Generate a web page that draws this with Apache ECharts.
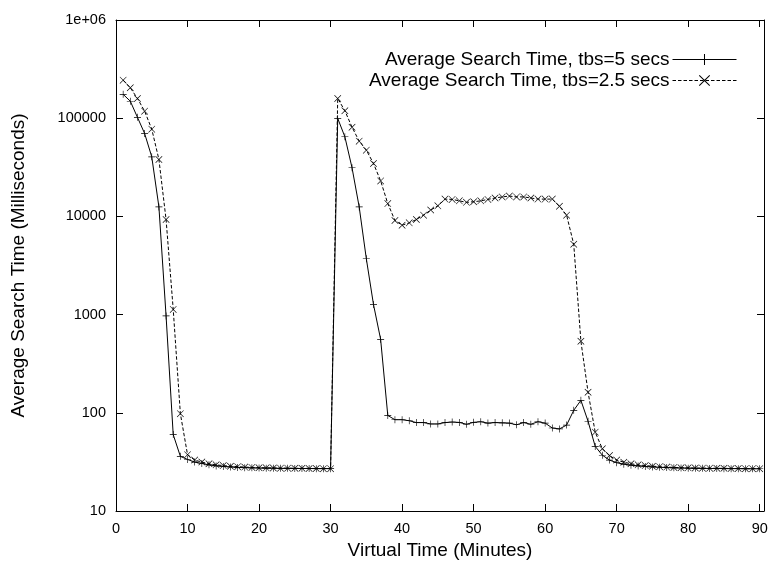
<!DOCTYPE html>
<html>
<head>
<meta charset="utf-8">
<script src="https://cdn.jsdelivr.net/npm/echarts@6/dist/echarts.min.js"></script>
<style>html,body{margin:0;padding:0;background:#fff;}#chart{width:774px;height:567px;}</style>
</head>
<body>
<div id="chart"></div>
<script>
const minutes = [1,2,3,4,5,6,7,8,9,10,11,12,13,14,15,16,17,18,19,20,21,22,23,24,25,26,27,28,29,30,
  31,32,33,34,35,36,37,38,39,40,41,42,43,44,45,46,47,48,49,50,51,52,53,54,55,56,57,58,59,60,
  61,62,63,64,65,66,67,68,69,70,71,72,73,74,75,76,77,78,79,80,81,82,83,84,85,86,87,88,89,90];

const tbs5 = [175000,149000,102000,70000,40400,12500,970,60,36,33.5,
  31.5,30.5,29.5,28.8,28.4,28.1,27.8,27.6,27.5,27.4,
  27.3,27.3,27.2,27.2,27.1,27.1,27.1,27.0,27.0,27.0,
  99500,64700,31300,12500,3700,1270,560,94,85,85,
  83,79.5,79.5,77,77,79.5,80.5,79.8,76.5,80,
  81,78.5,79.5,79,78.5,75.5,79.5,76.5,81,78.5,
  70,68.5,75,106,134,82,45.5,37,33,31,
  30,29.3,28.8,28.4,28.1,27.9,27.7,27.5,27.4,27.3,
  27.2,27.2,27.1,27.1,27.0,27.0,27.0,26.9,26.9,26.9];

const tbs25 = [244000,204000,159000,118000,77400,38000,9300,1130,98,37.5,
  33,31.5,30.3,29.5,29,28.6,28.3,28,27.8,27.6,
  27.5,27.4,27.3,27.3,27.2,27.2,27.1,27.1,27.0,27.0,
  159000,119000,81000,58400,47300,34600,23000,13500,9100,8130,
  8600,9300,10300,11600,12800,15000,14900,14400,13900,14100,
  14400,14900,15400,15800,16100,15800,15800,15400,15000,15000,
  15000,12700,10300,5200,535,162,63.5,43,36.7,33,
  31.4,30.3,29.5,29,28.6,28.3,28,27.8,27.6,27.5,
  27.4,27.3,27.3,27.2,27.2,27.1,27.1,27.0,27.0,27.0];

const seriesNames = ['Average Search Time, tbs=5 secs','Average Search Time, tbs=2.5 secs'];
const xTitle = 'Virtual Time (Minutes)';
const yTitle = 'Average Search Time (Milliseconds)';

const FONT = 'Liberation Sans';
const plusPath = 'path://M0,4.55L10,4.55L10,5.45L0,5.45Z M4.55,0L5.45,0L5.45,10L4.55,10Z';
const crossPath = 'path://M0,0.65L0.65,0L10,9.35L9.35,10Z M9.35,0L10,0.65L0.65,10L0,9.35Z';

function pairs(xs, ys){ return xs.map((x,i)=>[x, ys[i]]); }

const chart = echarts.init(document.getElementById('chart'), null, {renderer:'canvas'});
const axisCommon = {
  axisLine:{show:true, onZero:false, lineStyle:{color:'#000', width:1}},
  axisTick:{show:true, inside:true, length:7, lineStyle:{color:'#000', width:1}},
  splitLine:{show:false},
  minorTick:{show:false}
};
chart.setOption({
  animation:false,
  backgroundColor:'#fff',
  textStyle:{fontFamily:FONT},
  grid:{left:116, right:10, top:20, bottom:56, containLabel:false},
  legend:{
    orient:'vertical', right:32, top:45, align:'right',
    itemWidth:64, itemHeight:14, itemGap:2,
    lineStyle:{width:1},
    textStyle:{fontFamily:FONT, fontSize:19, color:'#000', padding:[0,-2,0,0]},
    data:seriesNames
  },
  xAxis:[
    Object.assign({}, axisCommon, {
      type:'value', min:0, max:90.6, interval:10, position:'bottom',
      name:xTitle, nameLocation:'middle', nameGap:30,
      nameTextStyle:{fontFamily:FONT, fontSize:19, color:'#000'},
      axisLabel:{color:'#000', fontFamily:FONT, fontSize:14.5, margin:10,
        formatter:v => (Math.abs(v % 10) < 1e-9 ? String(v) : '')}
    }),
    Object.assign({}, axisCommon, {
      type:'value', min:0, max:90.6, interval:10, position:'top',
      axisLabel:{show:false}
    })
  ],
  yAxis:[
    Object.assign({}, axisCommon, {
      type:'log', logBase:10, min:10, max:1000000, position:'left',
      name:yTitle, nameLocation:'middle', nameGap:88,
      nameTextStyle:{fontFamily:FONT, fontSize:19, color:'#000'},
      axisLabel:{color:'#000', fontFamily:FONT, fontSize:14.5, margin:10,
        formatter:v => (v >= 1000000 ? '1e+06' : String(Math.round(v)))}
    }),
    Object.assign({}, axisCommon, {
      type:'log', logBase:10, min:10, max:1000000, position:'right',
      axisLabel:{show:false}
    })
  ],
  series:[
    {
      name:seriesNames[0], type:'line', xAxisIndex:0, yAxisIndex:0,
      data:pairs(minutes, tbs5),
      symbol:plusPath, symbolSize:7, showAllSymbol:true,
      lineStyle:{color:'#000', width:1, type:'solid'},
      itemStyle:{color:'#000', borderWidth:0},
      emphasis:{disabled:true}
    },
    {
      name:seriesNames[1], type:'line', xAxisIndex:0, yAxisIndex:0,
      data:pairs(minutes, tbs25),
      symbol:crossPath, symbolSize:7, showAllSymbol:true,
      lineStyle:{color:'#000', width:1, type:[3.5,2]},
      itemStyle:{color:'#000', borderWidth:0},
      emphasis:{disabled:true}
    }
  ]
});
</script>
</body>
</html>
